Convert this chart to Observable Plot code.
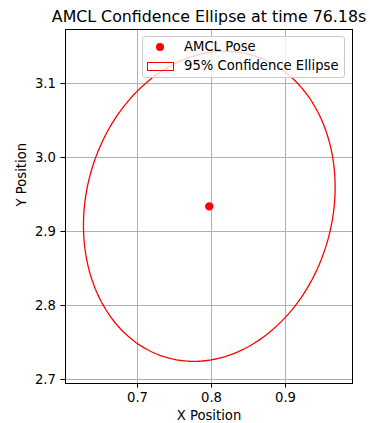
<!DOCTYPE html>
<html>
<head>
<meta charset="utf-8">
<script src="https://cdn.jsdelivr.net/npm/d3@7"></script>
<script src="https://cdn.jsdelivr.net/npm/@observablehq/plot@0.6"></script>
<style>
  html, body { margin: 0; padding: 0; background: #fff; }
  #wrap { position: relative; width: 370px; height: 423px; font-family: "DejaVu Sans", sans-serif; }
  #legend { position: absolute; left: 142px; top: 36px; width: 201px; height: 40px;
            background: rgba(255,255,255,0.8); border: 1px solid #cccccc; border-radius: 3px;
            font-size: 13.2px; color: #000; }
  .lg-dot { position: absolute; width: 8px; height: 8px; border-radius: 50%; background: red; }
  .lg-rect { position: absolute; width: 25px; height: 7px; border: 1.3px solid red; }
  .lg-text { position: absolute; left: 41px; white-space: nowrap; line-height: 16px; }
</style>
</head>
<body>
<div id="wrap"></div>
<script>
// ---- data ----
const titleText = "AMCL Confidence Ellipse at time 76.18s";
const xLabel = "X Position";
const yLabel = "Y Position";
const xTicks = [0.7, 0.8, 0.9];
const yTicks = [2.7, 2.8, 2.9, 3.0, 3.1];
const xDomain = [0.6027, 0.9905];
const yDomain = [2.6946, 3.173];
const poseX = [0.797];
const poseY = [2.934];
// 95% confidence ellipse parameters (center, semi-axes, rotation in degrees)
const ellipseCenter = [0.797, 2.934];
const ellipseSemiAxes = [0.2123, 0.1665];
const ellipseAngleDeg = [74.8];
const legendLabels = ["AMCL Pose", "95% Confidence Ellipse"];

// ellipse outline from its parameters (as an Ellipse patch does)
const th = ellipseAngleDeg[0] * Math.PI / 180;
const ellipsePts = d3.range(0, 361, 2).map(deg => {
  const t = deg * Math.PI / 180;
  const a = ellipseSemiAxes[0] * Math.cos(t), b = ellipseSemiAxes[1] * Math.sin(t);
  return {x: ellipseCenter[0] + a * Math.cos(th) - b * Math.sin(th),
          y: ellipseCenter[1] + a * Math.sin(th) + b * Math.cos(th)};
});
const pose = poseX.map((x, i) => ({x, y: poseY[i]}));

const chart = Plot.plot({
  width: 370,
  height: 423,
  marginLeft: 65,
  marginRight: 18,
  marginTop: 29,
  marginBottom: 40,
  style: {fontFamily: "DejaVu Sans, sans-serif", fontSize: "13.2px", color: "#000", background: "#fff"},
  x: {domain: xDomain, label: null},
  y: {domain: yDomain, label: null},
  marks: [
    Plot.gridX(xTicks, {stroke: "#b0b0b0", strokeOpacity: 1, strokeWidth: 1}),
    Plot.gridY(yTicks, {stroke: "#b0b0b0", strokeOpacity: 1, strokeWidth: 1}),
    Plot.line(ellipsePts, {x: "x", y: "y", stroke: "red", strokeWidth: 1.3}),
    Plot.dot(pose, {x: "x", y: "y", r: 4.2, fill: "red", stroke: null}),
    Plot.frame({stroke: "#000", strokeWidth: 1}),
    Plot.axisX(xTicks, {tickSize: 4.6, tickPadding: 4.8, tickFormat: d3.format(".1f"), label: null, stroke: "#000"}),
    Plot.axisY(yTicks, {tickSize: 4.6, tickPadding: 5, tickFormat: d3.format(".1f"), label: null, stroke: "#000"}),
    Plot.text([titleText], {frameAnchor: "top", lineAnchor: "bottom", dy: -7.5, fontSize: 15.8, fill: "#000"}),
    Plot.text([xLabel], {frameAnchor: "bottom", lineAnchor: "bottom", dy: 36.5, fontSize: 13.2, fill: "#000"}),
    Plot.text([yLabel], {frameAnchor: "left", rotate: -90, dx: -43.5, fontSize: 13.2, fill: "#000"})
  ]
});

const wrap = document.getElementById("wrap");
wrap.appendChild(chart);

// legend overlay
const legend = document.createElement("div");
legend.id = "legend";
legend.innerHTML = `
  <div class="lg-dot" style="left:13px; top:6px;"></div>
  <div class="lg-text" style="top:2px;">${legendLabels[0]}</div>
  <div class="lg-rect" style="left:4px; top:25px;"></div>
  <div class="lg-text" style="top:21px;">${legendLabels[1]}</div>`;
wrap.appendChild(legend);
</script>
</body>
</html>
